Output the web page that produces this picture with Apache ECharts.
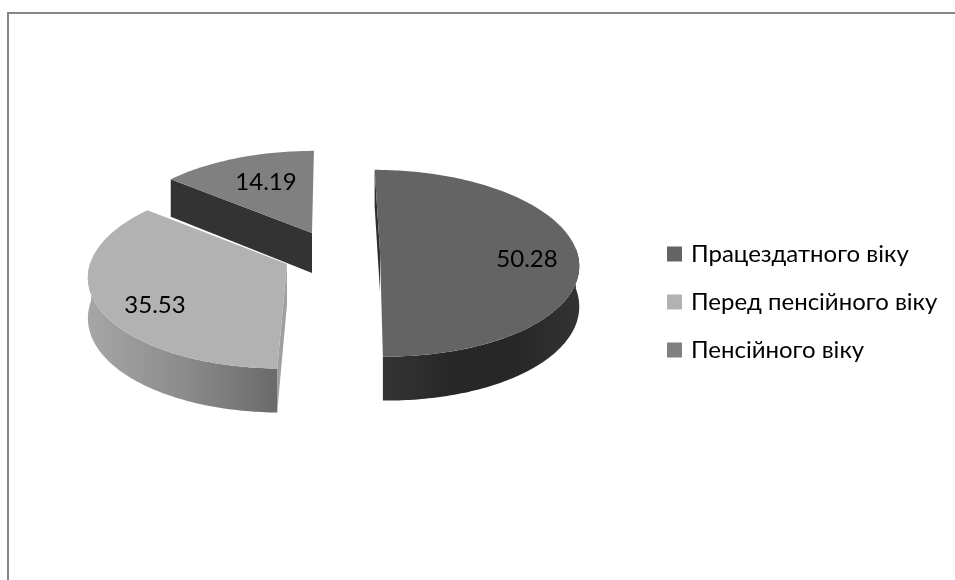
<!DOCTYPE html>
<html>
<head>
<meta charset="utf-8">
<style>html,body{margin:0;padding:0;background:#fff}#c{width:955px;height:580px}</style>
<script src="https://cdn.jsdelivr.net/npm/echarts@6/dist/echarts.min.js"></script>
</head>
<body>
<div id="c"></div>
<script>
const categories = ['Працездатного віку', 'Перед пенсійного віку', 'Пенсійного віку'];
const values = [50.28, 35.53, 14.19];
const faceColors = ['#646464', '#b2b2b2', '#808080'];

const FONT = 'Lato, "Noto Sans", sans-serif';
const apexes = [[380, 252], [287, 264], [312, 233]];
const labelPos = [[527, 259], [155, 305], [266, 182]];
const axisX = 330, rimA = 197, rimB = 92, persp = 0.12;

const total = values.reduce((a, b) => a + b, 0);
function rim(i, deg, depth) {
  const t = deg * Math.PI / 180, u = Math.sin(t), v = Math.cos(t);
  const den = 1 + persp * v;
  const off = apexes[i][0] - axisX;
  return [axisX + (off + rimA * u) / den,
          apexes[i][1] - rimB * v / den + (depth ? 40 - 4 * v : 0)];
}
function arc(i, a, b, depth) {
  const pts = [], n = Math.max(2, Math.ceil(Math.abs(b - a)));
  for (let k = 0; k <= n; k++) pts.push(rim(i, a + (b - a) * k / n, depth));
  return pts;
}
function poly(points, fill, z2) {
  return { type: 'polygon', shape: { points }, style: { fill }, z2 };
}
const grad = stops => new echarts.graphic.LinearGradient(0, 0, 1, 0,
  stops.map((c, k) => ({ offset: k / (stops.length - 1), color: c })));

function renderSlice(i) {
  return function (params, api) {
    const value = api.value(0);
    let start = 0;
    for (let k = 0; k < i; k++) start += values[k] / total * 360;
    const end = start + value / total * 360;
    const [ax, ay] = apexes[i];
    const children = [];
    if (i === 0) {
      const c = rim(i, start, false);
      children.push(poly([c, [ax, ay], [ax, ay + 40], [c[0], c[1] + 36]], '#2e2e2e', 1));
      children.push(poly(arc(i, 88, end, false).concat(arc(i, end, 88, true)),
        grad(['#353535', '#272727', '#272727', '#333333']), 2));
    } else if (i === 1) {
      const c = rim(i, start, false);
      children.push(poly([[ax, ay], c, rim(i, start, true), [ax, ay + 40]], '#a0a0a0', 1));
      children.push(poly(arc(i, start, 272, false).concat(arc(i, 272, start, true)),
        grad(['#a6a6a6', '#8c8c8c', '#6a6a6a']), 2));
    } else {
      const c = rim(i, start, false);
      children.push(poly([c, [ax, ay], [ax, ay + 40], rim(i, start, true)], '#333333', 1));
    }
    children.push(poly([[ax, ay]].concat(arc(i, start, end, false)), faceColors[i], 3));
    children.push({
      type: 'text', z2: 4,
      style: { text: value.toFixed(2), x: labelPos[i][0], y: labelPos[i][1],
               fill: '#000', font: '24px ' + FONT, align: 'center', verticalAlign: 'middle' }
    });
    return { type: 'group', children };
  };
}

const chart = echarts.init(document.getElementById('c'), null, { renderer: 'canvas' });
chart.setOption({
  animation: false,
  backgroundColor: '#fff',
  legend: {
    orient: 'vertical', left: 662, top: 237, itemGap: 24,
    itemWidth: 15, itemHeight: 15, icon: 'rect',
    textStyle: { fontFamily: FONT, fontSize: 24, color: '#000', padding: [0, 0, 0, 4] },
    itemStyle: { borderWidth: 0 },
    data: categories
  },
  graphic: [
    { type: 'polyline', shape: { points: [[8, 580], [8, 13], [955, 13]] },
      style: { stroke: '#868686', lineWidth: 2, fill: null } }
  ],
  series: categories.map((name, i) => ({
    type: 'custom', name, coordinateSystem: 'none',
    itemStyle: { color: faceColors[i] },
    data: [values[i]],
    renderItem: renderSlice(i)
  }))
});
</script>
</body>
</html>
